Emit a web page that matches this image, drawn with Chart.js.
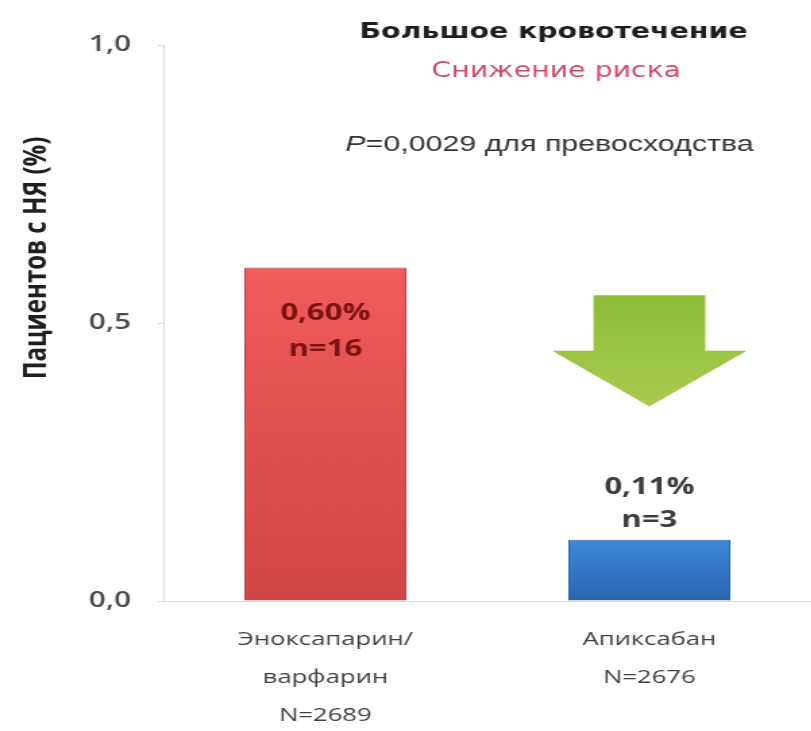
<!DOCTYPE html>
<html>
<head>
<meta charset="utf-8">
<script src="https://cdn.jsdelivr.net/npm/chart.js@4.4.1/dist/chart.umd.min.js"></script>
<style>
  html, body { margin: 0; padding: 0; background: #fff; overflow: hidden; }
  /* slide is drawn narrow and stretched sideways like the original slide */
  #wrap { width: 601px; height: 731px; transform: scaleX(1.35); transform-origin: 0 0; }
</style>
</head>
<body>
<div id="wrap"><canvas id="bleedChart" width="601" height="731"></canvas></div>
<script>
// данные
const groupNames = [['Эноксапарин/', 'варфарин'], ['Апиксабан']];
const groupN = [2689, 2676];
const rates = [0.60, 0.11];      // % пациентов с большим кровотечением
const events = [16, 3];
const yTicks = [0, 0.5, 1.0];

const labels = groupNames.map(function (name, i) {
    return name.concat('N=' + groupN[i]);
});

const barColors = [
    ['#f25b5b', '#cf4545'],
    ['#3f88da', '#2a65b0']
];

const fmt = function (v, d) {
    return v.toFixed(d).replace('.', ',');
};

// градиент для каждого столбца
function barGradient(context) {
    const chart = context.chart;
    const i = context.dataIndex;
    const y = chart.scales.y;
    if (!y || y.top === undefined) return barColors[i][0];
    const g = chart.ctx.createLinearGradient(0, y.getPixelForValue(rates[i]), 0, y.getPixelForValue(0));
    g.addColorStop(0, barColors[i][0]);
    g.addColorStop(1, barColors[i][1]);
    return g;
}

// надписи, стрелка и заголовки
const slideDecor = {
    id: 'slideDecor',
    afterDatasetsDraw: function (chart) {
        const ctx = chart.ctx;
        const meta = chart.getDatasetMeta(0);
        const yScale = chart.scales.y;

        // зелёная стрелка вниз над вторым столбцом
        const bar = meta.data[1];
        const cx = bar.x;
        const hw = bar.width / 2;
        const yTop = yScale.getPixelForValue(0.55);
        const yBase = yScale.getPixelForValue(0.45);
        const yTip = yScale.getPixelForValue(0.35);
        const g = ctx.createLinearGradient(0, yTop, 0, yTip);
        g.addColorStop(0, '#8dbd38');
        g.addColorStop(1, '#a9cb4e');
        ctx.save();
        ctx.fillStyle = g;
        ctx.beginPath();
        ctx.moveTo(cx - hw * 0.69, yTop);
        ctx.lineTo(cx + hw * 0.69, yTop);
        ctx.lineTo(cx + hw * 0.69, yBase);
        ctx.lineTo(cx + hw * 1.2, yBase);
        ctx.lineTo(cx, yTip);
        ctx.lineTo(cx - hw * 1.2, yBase);
        ctx.lineTo(cx - hw * 0.69, yBase);
        ctx.closePath();
        ctx.fill();
        ctx.restore();

        // подписи значений
        ctx.save();
        ctx.textAlign = 'center';
        ctx.textBaseline = 'middle';
        ctx.font = 'bold 23px "Open Sans"';
        meta.data.forEach(function (el, i) {
            const top = el.y;
            const line1 = fmt(rates[i], 2) + '%';
            const line2 = 'n=' + events[i];
            if (el.base - top > 150) {
                ctx.fillStyle = '#7a1212';
                ctx.fillText(line1, el.x, top + 46);
                ctx.fillText(line2, el.x, top + 82);
            } else {
                ctx.fillStyle = '#3c3c3c';
                ctx.fillText(line1, el.x, top - 52);
                ctx.fillText(line2, el.x, top - 19);
            }
        });
        ctx.restore();
    },
    afterDraw: function (chart) {
        const ctx = chart.ctx;
        ctx.save();
        ctx.textAlign = 'center';
        ctx.textBaseline = 'middle';

        ctx.fillStyle = '#1e1e1e';
        ctx.font = 'bold 21px "DejaVu Sans"';
        ctx.fillText('Большое кровотечение', 410, 33);

        ctx.fillStyle = '#d24a66';
        ctx.font = '21px "DejaVu Sans"';
        ctx.fillText('Снижение риска', 412, 72);

        // P=0,0029 для превосходства
        const pPart = 'P';
        const rest = '=0,0029 для превосходства';
        ctx.font = 'italic 22.5px "Liberation Sans"';
        const wP = ctx.measureText(pPart).width;
        ctx.font = '22.5px "Liberation Sans"';
        const wR = ctx.measureText(rest).width;
        const x0 = 407 - (wP + wR) / 2;
        ctx.textAlign = 'left';
        ctx.fillStyle = '#333333';
        ctx.font = 'italic 22.5px "Liberation Sans"';
        ctx.fillText(pPart, x0, 145);
        ctx.font = '22.5px "Liberation Sans"';
        ctx.fillText(rest, x0 + wP, 145);

        // подпись оси Y
        ctx.translate(27.4, 258);
        ctx.rotate(-Math.PI / 2);
        ctx.textAlign = 'center';
        ctx.fillStyle = '#1e1e1e';
        ctx.font = 'bold 24px "Open Sans"';
        ctx.fillText('Пациентов с НЯ (%)', 0, 0);
        ctx.restore();
    }
};

const ctx = document.getElementById('bleedChart').getContext('2d');
new Chart(ctx, {
    type: 'bar',
    data: {
        labels: labels,
        datasets: [{
            data: rates,
            backgroundColor: barGradient,
            borderColor: ['#c04040', '#2b64aa'],
            borderWidth: 1,
            barPercentage: 0.5,
            categoryPercentage: 1.0
        }]
    },
    options: {
        responsive: false,
        animation: false,
        layout: { padding: { top: 45, left: 0, right: 0, bottom: 0 } },
        plugins: {
            legend: { display: false },
            tooltip: { enabled: false }
        },
        scales: {
            x: {
                grid: { display: false },
                border: { display: true, color: '#d9d9d9', width: 1 },
                ticks: {
                    color: '#404040',
                    padding: 12,
                    font: { family: 'Open Sans', size: 19, lineHeight: '38px' }
                },
                afterFit: function (scale) { scale.height = 130; }
            },
            y: {
                min: 0,
                max: 1,
                afterBuildTicks: function (scale) {
                    scale.ticks = yTicks.map(function (v) { return { value: v }; });
                },
                grid: { drawOnChartArea: false, drawTicks: true, tickLength: 4, color: '#d9d9d9' },
                border: { display: true, color: '#d9d9d9', width: 1 },
                ticks: {
                    color: '#4a4a4a',
                    padding: 20,
                    font: { family: 'Open Sans', size: 22, weight: '600' },
                    callback: function (value) { return fmt(value, 1); }
                },
                afterFit: function (scale) { scale.width = 121; }
            }
        }
    },
    plugins: [slideDecor]
});
</script>
</body>
</html>
